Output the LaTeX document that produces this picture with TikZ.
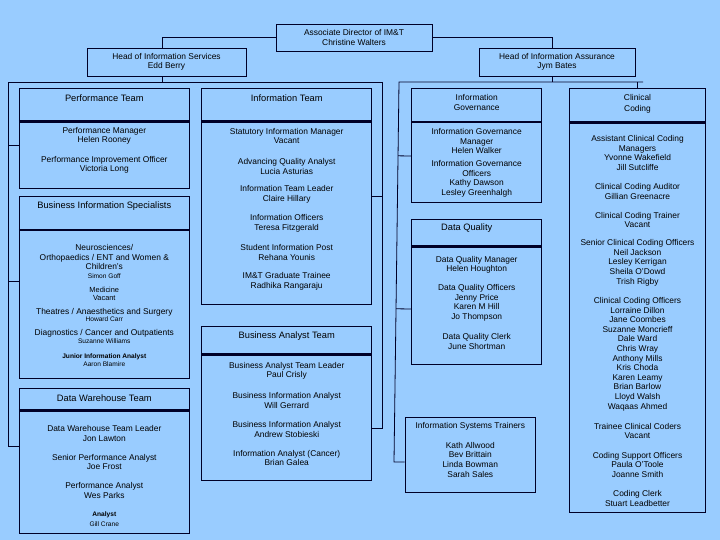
\documentclass[tikz,border=0pt]{standalone}
\usepackage{fontspec}
\setmainfont{Liberation Sans}
\usetikzlibrary{calc}

\definecolor{bgblue}{RGB}{153,204,255}
\definecolor{linenavy}{RGB}{0,0,40}

\begin{document}
\begin{tikzpicture}[x=1pt,y=-1pt]
\tikzstyle{box} = [rectangle, draw=linenavy, line width=0.8pt, inner sep=0pt]
\tikzstyle{topbox} = [box, align=center, font=\fontsize{8.4}{9.6}\selectfont]
\tikzstyle{hdr} = [draw=linenavy, line width=2.6pt]
\tikzstyle{conn} = [draw=linenavy, line width=0.8pt]
\tikzstyle{bodytext} = [inner sep=0pt, align=center, font=\fontsize{8.4}{9.6}\selectfont]
\tikzstyle{headtext} = [inner sep=0pt, align=center, font=\fontsize{9.3}{10.8}\selectfont]
\tikzstyle{smalltext} = [inner sep=0pt, align=center, font=\fontsize{6.6}{8}\selectfont]

\fill [bgblue] (0,0) rectangle (720,540);
\useasboundingbox (0,0) rectangle (720,540);

% heads
\node (dir) [topbox, minimum width=156pt, minimum height=27pt] at (354,37.5) {Associate Director of IM\&T\\Christine Walters};
\node (his) [topbox, minimum width=159pt, minimum height=28pt] at (166.5,62) {Head of Information Services\\Edd Berry};
\node (hia) [topbox, minimum width=156pt, minimum height=28pt] at (557,62) {Head of Information Assurance\\Jym Bates};

% team boxes
\node (perf) [box, minimum width=170pt, minimum height=100pt] at (104.3,138.3) {};
\node (bis) [box, minimum width=170pt, minimum height=182.3pt] at (104.3,287.2) {};
\node (dwh) [box, minimum width=170pt, minimum height=145pt] at (104.3,460.8) {};
\node (info) [box, minimum width=170pt, minimum height=215.7pt] at (286.7,196.2) {};
\node (bat) [box, minimum width=170pt, minimum height=154pt] at (286.7,403) {};
\node (ig) [box, minimum width=130pt, minimum height=114pt] at (476.7,145.3) {};
\node (dq) [box, minimum width=130pt, minimum height=145pt] at (476.7,291.8) {};
\node (ist) [box, minimum width=130.7pt, minimum height=75.3pt] at (470.3,454.7) {};
\node (cc) [box, minimum width=136.4pt, minimum height=424pt] at (637.5,300.3) {};

% header bars
\draw [hdr] ([yshift=-33.4pt]perf.north west) -- ([yshift=-33.4pt]perf.north east);
\draw [hdr] ([yshift=-34.3pt]bis.north west) -- ([yshift=-34.3pt]bis.north east);
\draw [hdr] ([yshift=-22.7pt]dwh.north west) -- ([yshift=-22.7pt]dwh.north east);
\draw [hdr] ([yshift=-33.4pt]info.north west) -- ([yshift=-33.4pt]info.north east);
\draw [hdr] ([yshift=-29pt]bat.north west) -- ([yshift=-29pt]bat.north east);
\draw [hdr] ([yshift=-34pt]ig.north west) -- ([yshift=-34pt]ig.north east);
\draw [hdr] ([yshift=-27.4pt]dq.north west) -- ([yshift=-27.4pt]dq.north east);
\draw [hdr] ([yshift=-34.4pt]cc.north west) -- ([yshift=-34.4pt]cc.north east);

% connectors
\coordinate (hisIn) at ([xshift=-4.5pt]his.north);
\coordinate (hiaIn) at ([xshift=-4.5pt]hia.north);
\coordinate (hisOut) at ([xshift=-4.5pt]his.south);
\coordinate (hiaOut) at ([xshift=-4.5pt]hia.south);
\draw [conn] (dir.west) -| (hisIn);
\draw [conn] (dir.east) -| (hiaIn);

\coordinate (lbusL) at (8,82);
\coordinate (lbusR) at (382,82);
\coordinate (perfIn) at ([yshift=-7.4pt]perf.west);
\coordinate (bisIn) at ([yshift=5.5pt]bis.west);
\coordinate (dwhIn) at ([yshift=14.8pt]dwh.west);
\coordinate (batIn) at ([yshift=-25pt]bat.east);
\draw [conn] (hisOut) -- (hisOut |- lbusL);
\draw [conn] (lbusR) -- (lbusL) |- (dwhIn);
\draw [conn] (lbusR) |- (batIn);
\draw [conn] (perfIn) -- (perfIn -| lbusL);
\draw [conn] (bisIn) -- (bisIn -| lbusL);
\draw [conn] (info.east) -- (info.east -| lbusR);

\coordinate (rbusT) at (399,82);
\coordinate (rbusE) at (643,82);
\coordinate (rbusB) at (394,462);
\coordinate (igIn) at ([yshift=-10.7pt]ig.west);
\coordinate (dqIn) at ([yshift=-17.2pt]dq.west);
\coordinate (istIn) at ([yshift=-7.3pt]ist.west);
\draw [conn] (hiaOut) -- (hiaOut |- rbusT);
\draw [conn] (rbusE) -- (rbusT) -- (rbusB) -- (istIn);
\draw [conn] (igIn) -- ($(rbusT)!(igIn)!(rbusB)$);
\draw [conn] (dqIn) -- ($(rbusT)!(dqIn)!(rbusB)$);
\draw [conn] (cc.north) -- (cc.north |- rbusT);

% Performance Team
\node (perfT) [headtext] at (104.3,98) {Performance Team};
\node (perf1) [bodytext] at (104.3,136) {Performance Manager\\Helen Rooney};
\node (perf2) [bodytext] at (104.3,165) {Performance Improvement Officer\\Victoria Long};

% Business Information Specialists
\node (bisT) [headtext] at (104.3,206) {Business Information Specialists};
\node (bis1) [bodytext] at (104.3,257) {Neurosciences/\\Orthopaedics / ENT and Women \&\\Children's};
\node (bis2) [smalltext] at (104.3,276.3) {Simon Goff};
\node (bis3) [bodytext, font=\fontsize{7.4}{8}\selectfont] at (104.3,293.4) {Medicine\\Vacant};
\node (bis4) [bodytext] at (104.3,312.7) {Theatres / Anaesthetics and Surgery};
\node (bis5) [smalltext] at (104.3,319.6) {Howard Carr};
\node (bis6) [bodytext] at (104.3,333) {Diagnostics / Cancer and Outpatients};
\node (bis7) [smalltext] at (104.3,341) {Suzanne Williams};
\node (bis8) [smalltext] at (104.3,359.9) {\textbf{Junior Information Analyst}\\Aaron Blamire};

% Data Warehouse Team
\node (dwhT) [headtext] at (104.3,398.3) {Data Warehouse Team};
\node (dwh1) [bodytext] at (104.3,433.5) {Data Warehouse Team Leader\\Jon Lawton};
\node (dwh2) [bodytext] at (104.3,462) {Senior Performance Analyst\\Joe Frost};
\node (dwh3) [bodytext] at (104.3,490.5) {Performance Analyst\\Wes Parks};
\node (dwh4) [smalltext] at (104.3,519.2) {\textbf{Analyst}\\[1.7pt]Gill Crane};

% Information Team
\node (infoT) [headtext] at (286.7,98) {Information Team};
\node (info1) [bodytext] at (286.7,136) {Statutory Information Manager\\Vacant};
\node (info2) [bodytext] at (286.7,166.2) {Advancing Quality Analyst\\Lucia Asturias};
\node (info3) [bodytext] at (286.7,194.5) {Information Team Leader\\Claire Hillary};
\node (info4) [bodytext] at (286.7,223.5) {Information Officers\\Teresa Fitzgerald};
\node (info5) [bodytext] at (286.7,252.3) {Student Information Post\\Rehana Younis};
\node (info6) [bodytext] at (286.7,281.2) {IM\&T Graduate Trainee\\Radhika Rangaraju};

% Business Analyst Team
\node (batT) [headtext] at (286.7,336) {Business Analyst Team};
\node (bat1) [bodytext] at (286.7,371) {Business Analyst Team Leader\\Paul Crisly};
\node (bat2) [bodytext] at (286.7,400.2) {Business Information Analyst\\Will Gerrard};
\node (bat3) [bodytext] at (286.7,429.2) {Business Information Analyst\\Andrew Stobieski};
\node (bat4) [bodytext] at (286.7,458) {Information Analyst (Cancer)\\Brian Galea};

% Information Governance
\node (igT) [bodytext] at (476.7,102.3) {Information\\[0.4pt]Governance};
\node (ig1) [bodytext] at (476.7,141) {Information Governance\\Manager\\Helen Walker};
\node (ig2) [bodytext] at (476.7,178.8) {Information Governance\\Officers\\Kathy Dawson\\Lesley Greenhalgh};

% Data Quality
\node (dqT) [headtext] at (466.7,227.7) {Data Quality};
\node (dq1) [bodytext] at (476.7,264.7) {Data Quality Manager\\Helen Houghton};
\node (dq2) [bodytext] at (476.7,302.8) {Data Quality Officers\\Jenny Price\\Karen M Hill\\Jo Thompson};
\node (dq3) [bodytext] at (476.7,341.3) {Data Quality Clerk\\June Shortman};

% Information Systems Trainers
\node (istT) [bodytext] at (470.3,426.3) {Information Systems Trainers};
\node (ist1) [bodytext] at (470.3,459.7) {Kath Allwood\\Bev Brittain\\Linda Bowman\\Sarah Sales};

% Clinical Coding
\node (ccT) [bodytext] at (637.5,103.8) {Clinical\\[1.4pt]Coding};
\node (cc1) [bodytext] at (637.5,152.8) {Assistant Clinical Coding\\Managers\\Yvonne Wakefield\\Jill Sutcliffe};
\node (cc2) [bodytext] at (637.5,191.2) {Clinical Coding Auditor\\Gillian Greenacre};
\node (cc3) [bodytext] at (637.5,219.8) {Clinical Coding Trainer\\Vacant};
\node (cc4) [bodytext] at (637.5,262.8) {Senior Clinical Coding Officers\\Neil Jackson\\Lesley Kerrigan\\Sheila O'Dowd\\Trish Rigby};
\node (cc5) [bodytext] at (637.5,354.2) {Clinical Coding Officers\\Lorraine Dillon\\Jane Coombes\\Suzanne Moncrieff\\Dale Ward\\Chris Wray\\Anthony Mills\\Kris Choda\\Karen Leamy\\Brian Barlow\\Lloyd Walsh\\Waqaas Ahmed};
\node (cc6) [bodytext] at (637.5,430.8) {Trainee Clinical Coders\\Vacant};
\node (cc7) [bodytext] at (637.5,464.8) {Coding Support Officers\\Paula O'Toole\\Joanne Smith};
\node (cc8) [bodytext] at (637.5,498.3) {Coding Clerk\\Stuart Leadbetter};
\end{tikzpicture}
\end{document}
